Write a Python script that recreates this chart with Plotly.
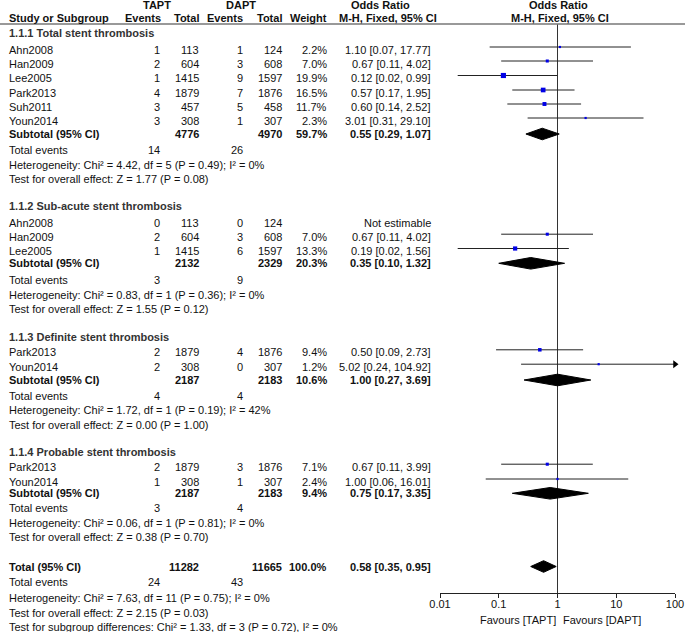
import math
import plotly.graph_objects as go

# ---------------- data ----------------
subgroup_titles = [
    "1.1.1 Total stent thrombosis",
    "1.1.2 Sub-acute stent thrombosis",
    "1.1.3 Definite stent thrombosis",
    "1.1.4 Probable stent thrombosis",
]
study_group = [0, 0, 0, 0, 0, 0, 1, 1, 1, 2, 2, 3, 3]
study_names = ["Ahn2008", "Han2009", "Lee2005", "Park2013", "Suh2011", "Youn2014",
               "Ahn2008", "Han2009", "Lee2005",
               "Park2013", "Youn2014",
               "Park2013", "Youn2014"]
tapt_events = [1, 2, 1, 4, 3, 3, 0, 2, 1, 2, 2, 2, 1]
tapt_total = [113, 604, 1415, 1879, 457, 308, 113, 604, 1415, 1879, 308, 1879, 308]
dapt_events = [1, 3, 9, 7, 5, 1, 0, 3, 6, 4, 0, 3, 1]
dapt_total = [124, 608, 1597, 1876, 458, 307, 124, 608, 1597, 1876, 307, 1876, 307]
weights = [2.2, 7.0, 19.9, 16.5, 11.7, 2.3, None, 7.0, 13.3, 9.4, 1.2, 7.1, 2.4]
or_est = [1.10, 0.67, 0.12, 0.57, 0.60, 3.01, None, 0.67, 0.19, 0.50, 5.02, 0.67, 1.00]
or_lo = [0.07, 0.11, 0.02, 0.17, 0.14, 0.31, None, 0.11, 0.02, 0.09, 0.24, 0.11, 0.06]
or_hi = [17.77, 4.02, 0.99, 1.95, 2.52, 29.10, None, 4.02, 1.56, 2.73, 104.92, 3.99, 16.01]

sub_tapt_total = [4776, 2132, 2187, 2187]
sub_dapt_total = [4970, 2329, 2183, 2183]
sub_weight = [59.7, 20.3, 10.6, 9.4]
sub_est = [0.55, 0.35, 1.00, 0.75]
sub_lo = [0.29, 0.10, 0.27, 0.17]
sub_hi = [1.07, 1.32, 3.69, 3.35]
sub_tapt_events = [14, 3, 4, 3]
sub_dapt_events = [26, 9, 4, 4]
sub_het = [
    "Heterogeneity: Chi² = 4.42, df = 5 (P = 0.49); I² = 0%",
    "Heterogeneity: Chi² = 0.83, df = 1 (P = 0.36); I² = 0%",
    "Heterogeneity: Chi² = 1.72, df = 1 (P = 0.19); I² = 42%",
    "Heterogeneity: Chi² = 0.06, df = 1 (P = 0.81); I² = 0%",
]
sub_test = [
    "Test for overall effect: Z = 1.77 (P = 0.08)",
    "Test for overall effect: Z = 1.55 (P = 0.12)",
    "Test for overall effect: Z = 0.00 (P = 1.00)",
    "Test for overall effect: Z = 0.38 (P = 0.70)",
]

total_tapt_total = 11282
total_dapt_total = 11665
total_weight = 100.0
total_est, total_lo, total_hi = 0.58, 0.35, 0.95
total_tapt_events = 24
total_dapt_events = 43
total_het = "Heterogeneity: Chi² = 7.63, df = 11 (P = 0.75); I² = 0%"
total_test = "Test for overall effect: Z = 2.15 (P = 0.03)"
subgroup_diff = "Test for subgroup differences: Chi² = 1.33, df = 3 (P = 0.72), I² = 0%"

tick_vals = [0.01, 0.1, 1, 10, 100]
tick_labels = ["0.01", "0.1", "1", "10", "100"]
favours_left = "Favours [TAPT]"
favours_right = "Favours [DAPT]"

# ---------------- layout (pixel rows) ----------------
W, H = 685, 632
title_y = [33, 206, 336.5, 452]
study_y = [49.5, 63.5, 78, 92.5, 106.5, 120.5, 222.7, 236.7, 251, 352.3, 366.7, 466.7, 481.5]
subtotal_y = [134, 263.3, 380, 493.3]
te_y = [150, 280, 396, 508.3]
het_y = [164.5, 294.5, 410, 522.5]
test_y = [179, 309, 424.5, 537]
total_y = 566.5
total_te_y, total_het_y, total_test_y, diff_y = 582, 597.5, 612.5, 627
axis_y = 593
header_line_y = 24

X_NAME, X_TEV, X_TTOT, X_DEV, X_DTOT, X_W, X_CI = 9, 160, 199, 243, 282, 327, 431
FONT = "Liberation Sans, Arial, sans-serif"
FS = 11
TXT = "#111111"

fig = go.Figure()
ann = []


def txt(xp, yp, s, anchor="right", bold=False, color=TXT):
    ann.append(dict(
        x=xp / W, y=yp, xref="paper", yref="y", text=("<b>%s</b>" % s) if bold else s,
        xanchor=anchor, yanchor="middle", showarrow=False, borderpad=0, borderwidth=0,
        font=dict(family=FONT, size=FS, color=color)))


def fmt_ci(e, lo, hi):
    return "%.2f [%.2f, %.2f]" % (e, lo, hi)


# headers
txt(157, 5, "TAPT", "center", True)
txt(241, 5, "DAPT", "center", True)
txt(X_NAME, 18, "Study or Subgroup", "left", True)
txt(X_TEV + 1, 18, "Events", "right", True)
txt(X_TTOT, 18, "Total", "right", True)
txt(X_DEV, 18, "Events", "right", True)
txt(X_DTOT, 18, "Total", "right", True)
txt(X_W, 18, "Weight", "right", True)
txt(380, 5, "Odds Ratio", "center", True)
txt(388, 18, "M-H, Fixed, 95% CI", "center", True)
txt(558.5, 5, "Odds Ratio", "center", True)
txt(560, 18, "M-H, Fixed, 95% CI", "center", True)

fig.add_shape(type="line", xref="paper", yref="y", x0=0, x1=1, y0=header_line_y, y1=header_line_y,
              line=dict(color="#777777", width=1.3))

LINE_C = "#222222"
SQ_C = "#0000e6"
DIAM_H = 5.8

# vertical line of no effect
fig.add_trace(go.Scatter(x=[1, 1], y=[header_line_y, axis_y], mode="lines",
                         line=dict(color="#333333", width=1), hoverinfo="skip"))


def diamond(est, lo, hi, y):
    fig.add_trace(go.Scatter(
        x=[lo, est, hi, est, lo], y=[y, y - DIAM_H, y, y + DIAM_H, y], mode="lines",
        fill="toself", fillcolor="black", line=dict(color="black", width=1), hoverinfo="skip"))


for g, title in enumerate(subgroup_titles):
    txt(X_NAME, title_y[g], title, "left", True, "#333333")
    for i, name in enumerate(study_names):
        if study_group[i] != g:
            continue
        y = study_y[i]
        txt(X_NAME, y, name, "left")
        txt(X_TEV, y, str(tapt_events[i]))
        txt(X_TTOT, y, str(tapt_total[i]))
        txt(X_DEV, y, str(dapt_events[i]))
        txt(X_DTOT, y, str(dapt_total[i]))
        if weights[i] is None:
            txt(X_CI, y, "Not estimable")
            continue
        txt(X_W, y, "%.1f%%" % weights[i])
        txt(X_CI, y, fmt_ci(or_est[i], or_lo[i], or_hi[i]))
        ym = y - 2.5
        hi = min(or_hi[i], 100)
        fig.add_trace(go.Scatter(x=[or_lo[i], hi], y=[ym, ym], mode="lines",
                                 line=dict(color=LINE_C, width=1), hoverinfo="skip", cliponaxis=False))
        if or_hi[i] > 100:
            fig.add_trace(go.Scatter(x=[100], y=[ym], mode="markers", cliponaxis=False,
                                     marker=dict(symbol="triangle-right", size=7, color="black"),
                                     hoverinfo="skip"))
        fig.add_trace(go.Scatter(x=[or_est[i]], y=[ym], mode="markers", cliponaxis=False,
                                 marker=dict(symbol="square", size=max(2.2, 1.15 * math.sqrt(weights[i])),
                                             color=SQ_C, line=dict(width=0)),
                                 hoverinfo="skip"))
    y = subtotal_y[g]
    txt(X_NAME, y, "Subtotal (95% CI)", "left", True)
    txt(X_TTOT, y, str(sub_tapt_total[g]), bold=True)
    txt(X_DTOT, y, str(sub_dapt_total[g]), bold=True)
    txt(X_W, y, "%.1f%%" % sub_weight[g], bold=True)
    txt(X_CI, y, fmt_ci(sub_est[g], sub_lo[g], sub_hi[g]), bold=True)
    diamond(sub_est[g], sub_lo[g], sub_hi[g], y)
    txt(X_NAME, te_y[g], "Total events", "left")
    txt(X_TEV, te_y[g], str(sub_tapt_events[g]))
    txt(X_DEV, te_y[g], str(sub_dapt_events[g]))
    txt(X_NAME, het_y[g], sub_het[g], "left")
    txt(X_NAME, test_y[g], sub_test[g], "left")

# overall total
txt(X_NAME, total_y, "Total (95% CI)", "left", True)
txt(X_TTOT, total_y, str(total_tapt_total), bold=True)
txt(X_DTOT, total_y, str(total_dapt_total), bold=True)
txt(X_W, total_y, "%.1f%%" % total_weight, bold=True)
txt(X_CI, total_y, fmt_ci(total_est, total_lo, total_hi), bold=True)
diamond(total_est, total_lo, total_hi, total_y)
txt(X_NAME, total_te_y, "Total events", "left")
txt(X_TEV, total_te_y, str(total_tapt_events))
txt(X_DEV, total_te_y, str(total_dapt_events))
txt(X_NAME, total_het_y, total_het, "left")
txt(X_NAME, total_test_y, total_test, "left")
txt(X_NAME, diff_y, subgroup_diff, "left")

# favours labels (anchored at the no-effect value on the axis)
ann.append(dict(x=0, y=619.5, xref="x", yref="y", text=favours_left, xanchor="right", yanchor="middle",
                xshift=-2, showarrow=False, borderpad=0, borderwidth=0,
                font=dict(family=FONT, size=FS, color=TXT)))
ann.append(dict(x=0, y=619.5, xref="x", yref="y", text=favours_right, xanchor="left", yanchor="middle",
                xshift=5, showarrow=False, borderpad=0, borderwidth=0,
                font=dict(family=FONT, size=FS, color=TXT)))

fig.update_layout(
    width=W, height=H, margin=dict(l=0, r=0, t=0, b=0),
    paper_bgcolor="white", plot_bgcolor="white", showlegend=False,
    annotations=ann,
    xaxis=dict(type="log", range=[-2, 2], domain=[440 / W, 675 / W], anchor="free",
               position=(H - axis_y) / H, showline=True, linecolor="#222222", linewidth=1,
               ticks="outside", ticklen=4, tickcolor="#222222", tickwidth=1,
               ticklabelstandoff=-3,
               tickvals=tick_vals, ticktext=tick_labels, showgrid=False, zeroline=False,
               automargin=False,
               tickfont=dict(family=FONT, size=FS, color=TXT)),
    yaxis=dict(range=[H, 0], domain=[0, 1], visible=False, showgrid=False, zeroline=False,
               automargin=False),
)

fig.write_html("out.html", config={"displayModeBar": False},
               post_script="document.body.style.margin='0';document.body.style.padding='0';"
                           "document.documentElement.style.overflow='hidden';")
